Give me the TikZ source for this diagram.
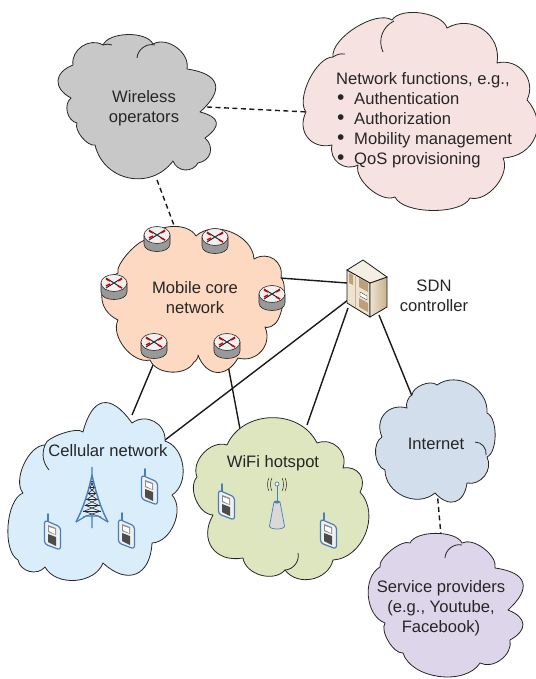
\documentclass[tikz,border=0pt]{standalone}
\usepackage{fontspec}
\setmainfont{Liberation Sans}
\definecolor{wirelessgray}{HTML}{C8C8C8}
\definecolor{functionpink}{HTML}{F6E2E0}
\definecolor{corepeach}{HTML}{FDD9C1}
\definecolor{cellblue}{HTML}{DAEDFA}
\definecolor{wifigreen}{HTML}{DEE6BF}
\definecolor{netblue}{HTML}{D3DEEC}
\definecolor{servicepurple}{HTML}{DDD6EB}
\definecolor{iconblue}{HTML}{4A7EBB}
\definecolor{ventbrown}{HTML}{BBA07A}
\definecolor{doorcream}{HTML}{EDE3D0}
\definecolor{sidetan}{HTML}{C9B08E}
\tikzset{
	puff/.style={bend left=65},
	cloudline/.style={draw=black!85,line width=0.8pt,line join=round},
	label/.style={inner sep=0pt,align=center,text=black!85,font=\fontsize{16.6}{20}\selectfont},
	link/.style={line width=1.4pt,black!90},
	dashlink/.style={link,dash pattern=on 5pt off 3.5pt},
	router/.pic={
		\draw[black!85,line width=0.6pt,left color=black!40,middle color=white,right color=black!40]
			(-13,-4) -- (-13,5) .. controls (-13,15) and (13,15) .. (13,5) -- (13,-4) -- cycle;
		\draw[black!85,line width=0.6pt,fill=black!6] (0,-4) ellipse [x radius=13pt,y radius=8.5pt];
		\draw[black!85,line width=1pt] (-8,-9) -- (8,1) (-8,1) -- (8,-9);
		\foreach \x/\y/\u/\v in {-8/-1/-4/-3, 8/-8/4/-6, -8/-8/-4/-6, 4/-1/8/1}{
			\draw[red!85!black,line width=1.5pt] (\x,\y) -- (\u,\v);
		}
	},
	phone/.pic={
		\draw[iconblue,line width=1.6pt,line cap=round] (-5,-12) -- (-5,-19);
		\draw[iconblue,line width=1.2pt,fill=black!6,rounded corners=3pt] (-8.5,-13) -- (7.5,-6) -- (7.5,17) -- (-8.5,11) -- cycle;
		\fill[black!45] (-5,-8) -- (3,-5) -- (3,2) -- (-5,-1) -- cycle;
		\fill[white] (-4,-6) -- (2,-4) -- (2,1) -- (-4,-2) -- cycle;
		\fill[black!70] (-5,1) -- (3,4) -- (3,13) -- (-5,9) -- cycle;
	},
	tower/.pic={
		\foreach \y/\w in {14/2, 20/3.5, 26/4.5, 32/6, 38/7.5, 44/9}{
			\draw[black!85,line width=0.6pt] (-\w,\y) -- (\w,\y+6) (\w,\y) -- (-\w,\y+6);
			\draw[black!85,line width=0.6pt] (-\w,\y) -- (\w,\y);
		}
		\draw[iconblue,line width=1.4pt,line join=round] (-16,55) .. controls (-8,40) and (-3,22) .. (0,8) .. controls (3,22) and (8,40) .. (16,55);
		\draw[iconblue,line width=1.2pt] (0,0) -- (0,8) (0,46) -- (0,61) (-16,55) -- (-6,49) (16,55) -- (6,49) (-6,49) -- (6,49);
	},
	server/.pic={
		% door
		\draw[black!90,line width=0.8pt,fill=doorcream] (-23,-20) -- (0,-7) -- (0,27) -- (-23,13) -- cycle;
		% side
		\draw[black!90,line width=0.8pt,left color=doorcream,right color=sidetan] (0,-7) -- (17,-13) -- (17,17) -- (0,27) -- cycle;
		% top
		\draw[black!90,line width=0.8pt,fill=doorcream!60] (-7,-30) -- (17,-13) -- (0,-7) -- (-23,-20) -- cycle;
		\fill[ventbrown] (-21,-17) -- (-17,-15) -- (-17,-5) -- (-21,-7) -- cycle;
		\fill[ventbrown] (-11,-12) -- (-2,-7) -- (-2,2) -- (-11,-3) -- cycle;
		\fill[ventbrown] (-11,8) -- (-2,13) -- (-2,22) -- (-11,17) -- cycle;
		\draw[black!70,line width=0.4pt,fill=white] (-10,2) -- (-3,6) -- (-3,10) -- (-10,6) -- cycle;
		\draw[sidetan,line width=0.5pt] (-15,-15) -- (-15,17);
	},
	access/.pic={
		\draw[iconblue,line width=0.7pt,left color=black!15,middle color=white,right color=black!15]
			(-3,1) -- (-7.5,25) .. controls (-7.5,29) and (7.5,29) .. (7.5,25) -- (3,1) -- cycle;
		\draw[iconblue,line width=0.9pt] (0,-17) -- (0,0);
		\draw[iconblue,line width=0.7pt,fill=white] (0,-17) circle (2pt);
		\fill[iconblue] (0,1) ellipse [x radius=3pt,y radius=1.5pt];
		\foreach \x in {5,8}{
			\draw[black!85,line width=0.5pt] (-\x,-23) .. controls (-\x-2,-20) and (-\x-2,-13) .. (-\x,-10);
			\draw[black!85,line width=0.5pt] (\x,-23) .. controls (\x+2,-20) and (\x+2,-13) .. (\x,-10);
		}
	}
}
\newcommand{\cloud}[3]{\draw[cloudline,fill=#1] (#2) foreach \x/\y/\l in {#3}{to[puff,looseness=\l] (\x,\y)} -- cycle;}
\newcommand{\bulletline}[1]{\hspace*{1pt}\makebox[17pt][l]{\raisebox{-0.7pt}{\fontsize{21}{20}\selectfont\textbullet}}#1}

\begin{document}
\begin{tikzpicture}[x=1pt,y=-1pt]
	\useasboundingbox (0,0) rectangle (535,679);
	
	\foreach \x/\y in
	{wirelessE/{207,107}, functionW/{308,112}, wirelessS/{157,180}, coreN/{175,228},
	 coreE/{280,278}, sdnW/{347,283}, coreSW/{153,365}, cellN/{132,415},
	 coreSE/{228,365}, wifiN/{240,429}, sdnSW/{348,300}, cellE/{165,440},
	 sdnS/{348,308}, wifiE/{307,425}, sdnSE/{379,315}, netN/{412,396},
	 netS/{437,490}, serviceN/{441,536}}{
		\coordinate(\x) at (\y);
	}
	
	% connectors
	\foreach \x/\y in
	{coreE/sdnW, coreSW/cellN, coreSE/wifiN, sdnSW/cellE, sdnS/wifiE, sdnSE/netN}{
		\draw[link] (\x)--(\y);
	}
	\foreach \x/\y in
	{wirelessE/functionW, wirelessS/coreN, netS/serviceN}{
		\draw[dashlink] (\x)--(\y);
	}
	
	% clouds
	\cloud{wirelessgray}{103,45}{153/44/.75,187/69/1,200/112/1.9,205/138/2,198/163/1.3,173/161/1.2,95/145/1.2,77/123/.7,71/98/1,73/65/1.6,103/45/1.1}
	\draw[cloudline] (137,58) to[bend left=50] (155,45);
	\draw[cloudline] (103,45) to[bend left=20] (112,45);
	\cloud{functionpink}{392,20}{447/28/.75,497/63/1.2,527/100/1.2,503/158/1.3,470/198/.9,395/197/.65,358/165/.8,332/145/1.2,306/112/1.3,333/57/.7,392/20/.7}
	\draw[cloudline] (333,57) to[bend left=20] (345,54);
	\draw[cloudline] (383,52) to[bend left=45] (394,21);
	\cloud{corepeach}{148,240}{196/236/.9,254/259/1,281/278/1.3,273/325/.5,265/327/.5,238/358/1.2,198/355/1.5,194/362/.5,150/360/.95,118/320/.9,118/273/1.3,148/240/.5}
	\cloud{cellblue}{83,432}{132/423/1.9,165/441/1.2,172/495/1,152/543/.95,103/563/1.6,45/567/1,18/560/1.1,23/493/.7,45/445/.8,83/432/.5}
	\draw[cloudline] (49,470) to[bend left=30] (45,445);
	\cloud{wifigreen}{227,445}{317/443/1.1,343/468/1.2,360/492/1.3,333/560/1.05,285/570/1.1,243/558/1,213/515/1.4,197/477/.9,227/445/1}
	\draw[cloudline] (285,570) to[bend right=50] (298,553);
	\cloud{netblue}{412,395}{437/385/.8,487/413/1.1,487/457/.7,467/483/1.1,435/493/1.6,385/470/1.1,382/437/.9,407/408/1.3,412/395/.6}
	\draw[cloudline] (475,442) to[bend left=50] (486,455);
	\cloud{servicepurple}{410,543}{462/543/.7,495/568/.8,508/610/1.9,510/640/1.75,480/663/1,403/653/.9,385/623/.7,380/567/.95,410/543/.6}
	\draw[cloudline] (445,558) to[bend left=50] (462,545);
	
	% routers
	\foreach \x/\y in
	{routerA/{157,239}, routerB/{215,241}, routerC/{114,287}, routerD/{272,298}, routerE/{154,346}, routerF/{227,346}}{
		\pic (\x) at (\y) {router};
	}
	
	% phones
	\foreach \x/\y in
	{phoneA/{150,488}, phoneB/{53,533}, phoneC/{127,532}, phoneD/{227,503}, phoneE/{329,532}}{
		\pic (\x) at (\y) {phone};
	}
	
	\pic (mast) at (92,467) {tower};
	\pic (hotspot) at (277,501) {access};
	\pic (sdn) at (370,290) {server};
	
	% labels
	\node[label] (wireless) at (144,108) {Wireless\\operators};
	\node[label,align=left,anchor=west] (functions) at (336,120) {Network functions, e.g.,\\\bulletline{Authentication}\\\bulletline{Authorization}\\\bulletline{Mobility management}\\\bulletline{QoS provisioning}};
	\node[label] (core) at (195,297.5) {Mobile core\\network};
	\node[label] (sdnlabel) at (434,296) {SDN\\controller};
	\node[label] (cellular) at (108,451) {Cellular network};
	\node[label] (wifi) at (273,463) {WiFi hotspot};
	\node[label] (internet) at (436,444) {Internet};
	\node[label] (service) at (441,608) {Service providers\\(e.g., Youtube,\\Facebook)};
\end{tikzpicture}
\end{document}
